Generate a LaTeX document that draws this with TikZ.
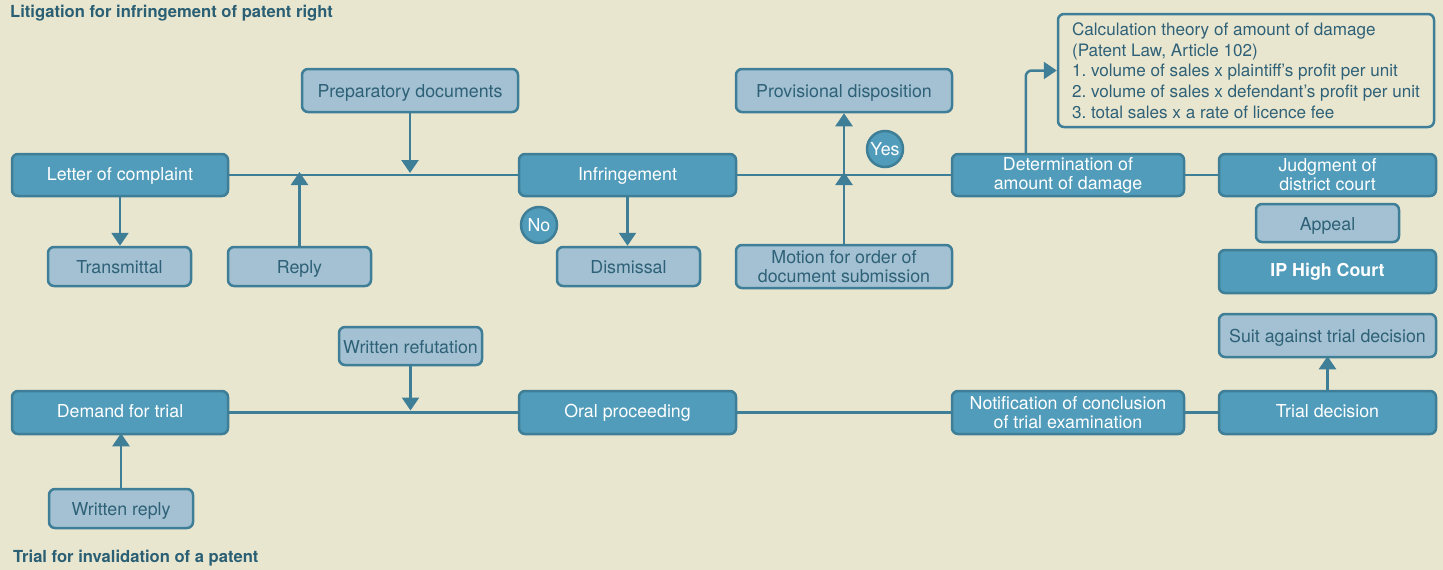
\documentclass[tikz,border=0pt]{standalone}
\usepackage{fontspec}
\setmainfont{TeX Gyre Heros}
\usetikzlibrary{arrows.meta,calc}
\definecolor{bgc}{HTML}{E9E6D0}
\definecolor{darkc}{HTML}{519CBA}
\definecolor{lightc}{HTML}{A3C1D2}
\definecolor{bordc}{HTML}{3E7E96}
\definecolor{textc}{HTML}{2E6177}
\definecolor{titlec}{HTML}{2A5F74}
\frenchspacing
\tikzset{
  base/.style={rounded corners=6pt, line width=2.5pt, draw=bordc, align=center, inner sep=0pt,
    font=\fontsize{17.8}{19}\selectfont},
  dark/.style={base, fill=darkc, text=white},
  light/.style={base, fill=lightc, text=textc},
  darkone/.style={dark, text height=13pt, text depth=3pt},
  lightone/.style={light, text height=15pt, text depth=1pt},
  conn/.style={line width=2.5pt, draw=bordc},
  arr/.style={conn, -{Triangle[width=17pt,length=13pt]}},
  circ/.style={circle, fill=darkc, draw=bordc, line width=2.5pt, text=white, minimum size=36pt,
    inner sep=0pt, font=\fontsize{17.8}{19}\selectfont},
  ttl/.style={anchor=west, inner sep=0pt, text=titlec, font=\fontsize{16.6}{18}\selectfont\bfseries}
}
\begin{document}
\begin{tikzpicture}[x=1pt,y=-1pt]
\fill[bgc] (0,0) rectangle (1443,570);
\useasboundingbox (0,0) rectangle (1443,570);

\node[ttl] (t1) at (10,13) {Litigation for infringement of patent right};
\node[ttl] (t2) at (13,558) {Trial for invalidation of a patent};

% top row
\node[darkone, minimum width=216pt, minimum height=42pt] (letter) at (120,175) {Letter of complaint};
\node[lightone, minimum width=143pt, minimum height=39pt] (trans) at (119.5,266.5) {Transmittal};
\node[lightone, minimum width=143pt, minimum height=39pt] (reply) at (299.5,266.5) {Reply};
\node[lightone, minimum width=216pt, minimum height=43pt] (prep) at (410,90.5) {Preparatory documents};
\node[darkone, minimum width=217pt, minimum height=42pt] (infr) at (627.5,175) {Infringement};
\node[circ] (no) at (539,225) {No};
\node[lightone, minimum width=143pt, minimum height=39pt] (dism) at (628.5,266.5) {Dismissal};
\node[lightone, minimum width=216pt, minimum height=43pt] (prov) at (844,90.5) {Provisional disposition};
\node[circ] (yes) at (885,149) {Yes};
\node[light, minimum width=216pt, minimum height=43pt] (motion) at (844,266.5) {Motion for order of\\document submission};
\node[dark, minimum width=232pt, minimum height=42pt] (det) at (1068,175) {Determination of\\amount of damage};
\node[dark, minimum width=217pt, minimum height=42pt] (judg) at (1327.5,175) {Judgment of\\district court};
\node[lightone, minimum width=143pt, minimum height=38pt] (appeal) at (1327.5,223) {Appeal};
\node[darkone, minimum width=217pt, minimum height=43pt, font=\fontsize{17.8}{19}\selectfont\bfseries] (ipc) at (1327.5,271.5) {IP High Court};
\node[base, fill=bgc, text=textc, align=left, minimum width=376pt, minimum height=113pt,
  font=\fontsize{17.1}{20.7}\selectfont] (calc) at (1246,70.5)
  {Calculation theory of amount of damage\\(Patent Law, Article 102)\\1. volume of sales x plaintiff’s profit per unit\\2. volume of sales x defendant’s profit per unit\\3. total sales x a rate of licence fee};

% bottom row
\node[darkone, minimum width=216pt, minimum height=43pt] (demand) at (120,412.5) {Demand for trial};
\node[lightone, minimum width=144pt, minimum height=39pt] (wreply) at (121,508.5) {Written reply};
\node[lightone, minimum width=143pt, minimum height=38pt] (wref) at (410.5,346) {Written refutation};
\node[darkone, minimum width=217pt, minimum height=43pt] (oral) at (627.5,412.5) {Oral proceeding};
\node[dark, minimum width=232pt, minimum height=43pt] (notif) at (1068,412.5) {Notification of conclusion\\of trial examination};
\node[darkone, minimum width=217pt, minimum height=43pt] (trial) at (1327.5,412.5) {Trial decision};
\node[lightone, minimum width=217pt, minimum height=43pt] (suit) at (1327.5,335.5) {Suit against trial decision};

% top connectors
\draw[conn] (letter.east) -- (infr.west);
\draw[conn] (infr.east) -- (det.west);
\draw[conn] (det.east) -- (judg.west);
\draw[arr] (letter.south) -- (letter.south |- trans.north);
\draw[arr] (reply.north) -- ([yshift=3pt]reply.north |- letter.east);
\draw[arr, shorten >=2pt] (prep.south) -- (prep.south |- letter.east);
\draw[arr] (infr.south) -- (infr.south |- dism.north);
\draw[arr] (motion.north) -- ([yshift=3pt]motion.north |- infr.east);
\draw[arr] (motion.north |- infr.east) -- (prov.south);
\draw[arr, rounded corners=6pt] ([xshift=75pt]det.north west) |- (calc.west);

% bottom connectors
\draw[conn] (demand.east) -- (oral.west);
\draw[conn] (oral.east) -- (notif.west);
\draw[conn] (notif.east) -- (trial.west);
\draw[arr, shorten >=2pt] (wref.south) -- (wref.south |- demand.east);
\draw[arr] (wreply.north) -- ([yshift=2pt]wreply.north |- demand.south);
\draw[arr] (trial.north) -- ([yshift=2pt]suit.south);
\end{tikzpicture}
\end{document}
